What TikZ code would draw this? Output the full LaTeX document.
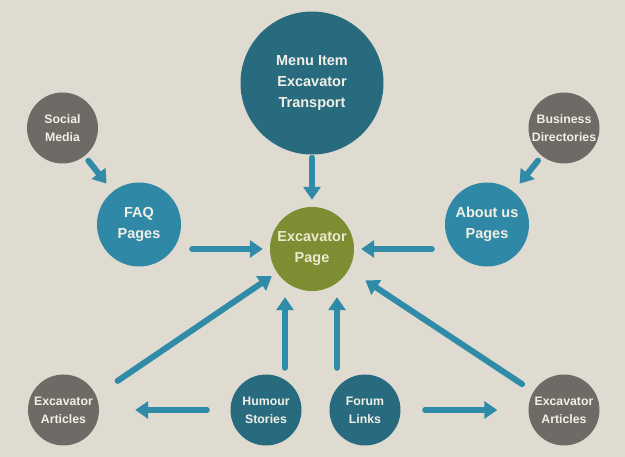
\documentclass[tikz,border=0pt]{standalone}
\usepackage{fontspec}
\setmainfont{Liberation Sans}
\usetikzlibrary{arrows.meta}
\definecolor{bgc}{HTML}{DFDBD0}
\definecolor{greyc}{HTML}{6E6A65}
\definecolor{darkt}{HTML}{286B7F}
\definecolor{lightt}{HTML}{2F89A6}
\definecolor{olivec}{HTML}{7D8E32}
\definecolor{arrc}{HTML}{2F8BA8}
\definecolor{txtc}{HTML}{F2EFE6}
\definecolor{txtp}{HTML}{ECE8CF}
\begin{document}
\begin{tikzpicture}[x=1pt,y=-1pt,
  bub/.style={circle,inner sep=0pt,draw=none,align=center,text=txtc,font=\bfseries},
  bigbub/.style={bub,font=\fontsize{14.5}{21}\selectfont\bfseries},
  smallbub/.style={bub,font=\fontsize{12.3}{18}\selectfont\bfseries,minimum size=71pt,fill=greyc},
  arr/.style={draw=arrc,line width=6pt,line cap=round,-{Triangle[width=17pt,length=13pt]}}]
\fill[bgc] (0,0) rectangle (625,457);
\useasboundingbox (0,0) rectangle (625,457);
% nodes
\node[bigbub,fill=darkt,minimum size=143pt] (menu) at (312,83) {Menu Item\\Excavator\\Transport};
\node[smallbub] (social) at (62.5,128) {Social\\Media};
\node[smallbub] (bus) at (564,128) {Business\\Directories};
\node[bigbub,fill=lightt,minimum size=84pt] (faq) at (139,224.5) {FAQ\\Pages};
\node[bigbub,fill=lightt,minimum size=84pt] (about) at (487,224.5) {About us\\Pages};
\node[bigbub,fill=olivec,minimum size=84pt,text=txtp] (page) at (312,249) {Excavator\\Page};
\node[smallbub] (exl) at (63.5,410) {Excavator\\Articles};
\node[smallbub] (exr) at (564,410) {Excavator\\Articles};
\node[smallbub,fill=darkt] (hum) at (266,410) {Humour\\Stories};
\node[smallbub,fill=darkt] (forum) at (365,410) {Forum\\Links};
% connectors
\draw[arr,shorten <=3pt,shorten >=7pt] (menu.south) -- (page.north);
\draw[arr,shorten <=6pt,shorten >=10pt] (social) -- (faq);
\draw[arr,shorten <=6pt,shorten >=10pt] (bus) -- (about);
\draw[arr,shorten <=11pt,shorten >=7pt] (faq.east |- page.west) -- (page.west);
\draw[arr,shorten <=13pt,shorten >=7pt] (about.west |- page.east) -- (page.east);
\draw[arr,shorten <=26pt,shorten >=6.3pt] (exl.24) -- (page.214);
\draw[arr,shorten <=13.6pt,shorten >=19.8pt] (exr.149) -- (page.331);
\draw[arr,shorten <=6.5pt,shorten >=6pt] ([xshift=19pt]hum.north) -- ([xshift=-27pt]page.south);
\draw[arr,shorten <=6.5pt,shorten >=6pt] ([xshift=-28pt]forum.north) -- ([xshift=25pt]page.south);
\draw[arr,shorten <=23.5pt,shorten >=36pt] (hum.west) -- (exl.east);
\draw[arr,shorten <=24.5pt,shorten >=31pt] (forum.east) -- (exr.west);
\end{tikzpicture}
\end{document}
